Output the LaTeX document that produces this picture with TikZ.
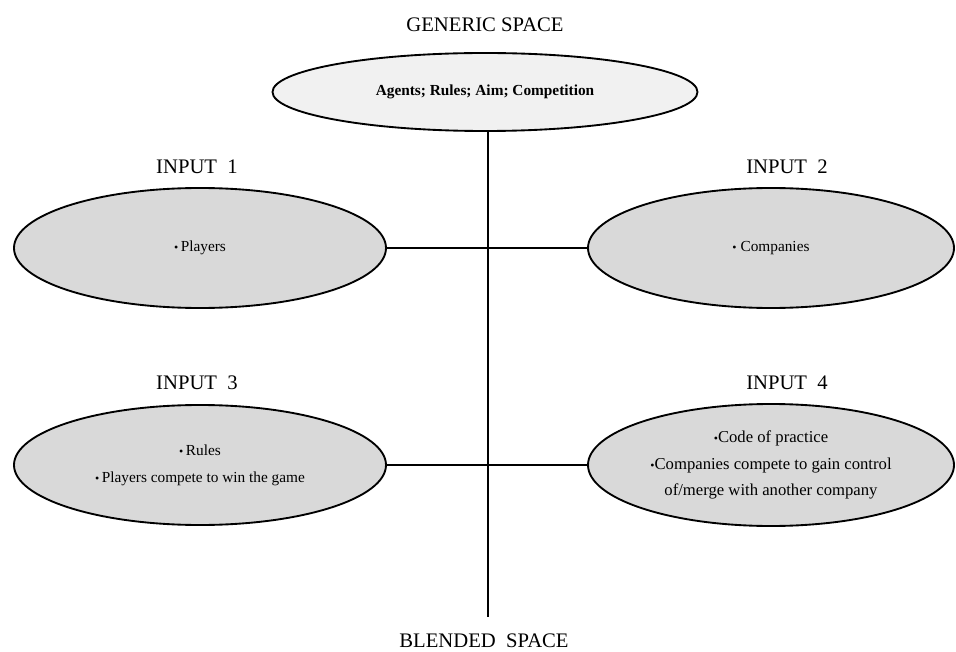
\documentclass[tikz,border=0pt]{standalone}
\usepackage{fontspec}
\setmainfont{Liberation Serif}
\usetikzlibrary{shapes.geometric, positioning}
\definecolor{inputfill}{HTML}{D9D9D9}
\definecolor{genericfill}{HTML}{F1F1F1}
\newcommand{\bul}{{\small\textbullet}}

\begin{document}
\begin{tikzpicture}[
      x=0.75pt, y=-0.75pt,
      space/.style={ellipse, draw=black, line width=1.4pt, inner sep=0pt,
                    align=center, font=\fontsize{11.5}{20}\selectfont},
      genericbox/.style={space, fill=genericfill, minimum width=318.75pt, minimum height=58.5pt},
      inputbox/.style={space, fill=inputfill, minimum width=279pt, minimum height=90pt},
      title/.style={font=\fontsize{15.5}{17}\selectfont},
      link/.style={line width=1pt, black}
    ]
      \useasboundingbox (0,0) rectangle (956,652);
      \node[genericbox] (generic) at (485,92) {\textbf{Agents; Rules; Aim;\ Competition}};
      \node[title] (tgeneric) at (485,25) {GENERIC SPACE};

      \node[inputbox] (in1) at (200,248) {\bul\,Players};
      \node[inputbox, minimum width=274.5pt] (in2) at (771,248) {\bul\ Companies};
      \node[inputbox] (in3) at (200,465) {\bul\,Rules\\ \bul\,Players compete to win the game};
      \node[inputbox, minimum width=274.5pt, minimum height=91.5pt,
            font=\fontsize{12.5}{20}\selectfont] (in4) at (771,465)
        {\bul Code of practice\\ \bul Companies compete to gain control\\ of/merge with another company};

      \node[title] (t1) at (197,167) {INPUT\ \ 1};
      \node[title] (t2) at (787,167) {INPUT\ \ 2};
      \node[title] (t3) at (197,383) {INPUT\ \ 3};
      \node[title] (t4) at (787,383) {INPUT\ \ 4};

      \coordinate (blend) at (488,617);
      \node[title] (tblend) at (484,641) {BLENDED\ \ SPACE};

      \draw[link] (generic.south -| blend) -- (blend);
      \draw[link] (in1) -- (in2);
      \draw[link] (in3) -- (in4);
    \end{tikzpicture}
\end{document}
